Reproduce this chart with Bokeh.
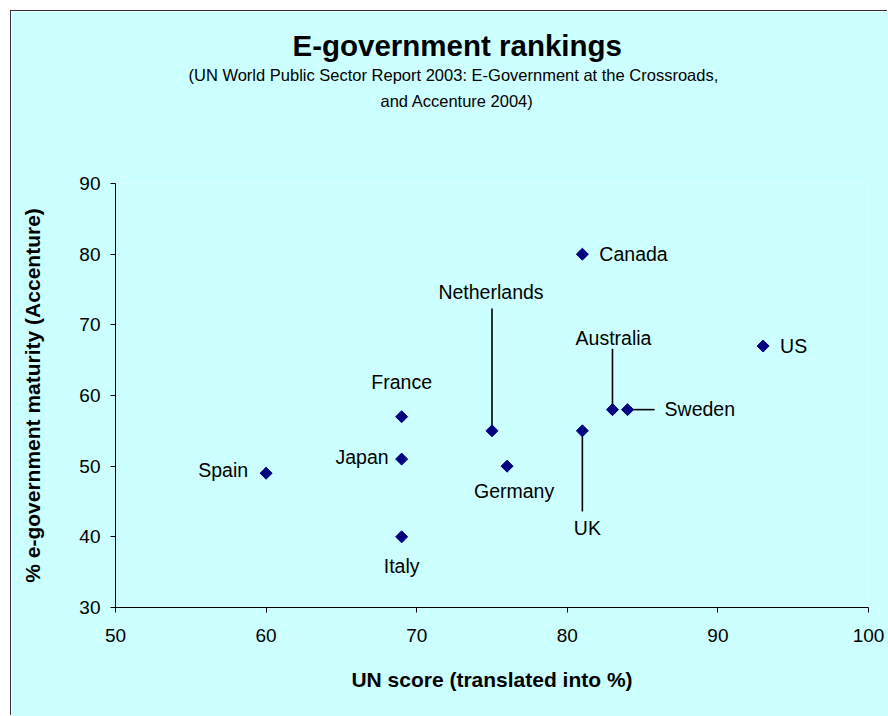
import numpy as np
from bokeh.plotting import figure
from bokeh.models import ColumnDataSource, Range1d, FixedTicker, Title
from bokeh.embed import file_html
from bokeh.resources import INLINE
from bokeh.core.properties import value

# UN e-government score vs Accenture maturity, by country
countries = ["Spain", "Japan", "France", "Italy", "Netherlands", "Germany",
             "UK", "Canada", "Australia", "Sweden", "US"]
un_score = [60, 69, 69, 69, 75, 76, 81, 81, 83, 84, 93]
accenture = [49, 51, 57, 40, 55, 50, 55, 80, 58, 58, 67]

x_ticks = [50, 60, 70, 80, 90, 100]
y_ticks = [30, 40, 50, 60, 70, 80, 90]

# where each country name sits relative to its marker (pixels) and how it is aligned
label_dx = [-18, -13, 0, 0, -1, 7, 5, 17, 1, 37, 17]
label_dy = [-3, -2, -35, 29, -139, 25, 97, 0, -72, -1, 0]
label_align = ["right", "right", "center", "center", "center", "center",
               "center", "left", "center", "left", "left"]

# leader lines from a marker to its label: far end in data units
leader_names = ["Netherlands", "Australia", "UK", "Sweden"]
leader_end_x = [75, 83, 81, 85.8]
leader_end_y = [72.3, 66.6, 43.6, 58]

FONT = "Liberation Sans"
BG = "#CCFFFF"
MARK = "#000080"

p = figure(width=877, height=705,
           x_range=Range1d(50, 100), y_range=Range1d(30, 90),
           output_backend="svg", toolbar_location=None,
           min_border_left=104, min_border_right=20,
           min_border_top=172, min_border_bottom=109,
           background_fill_color=BG, border_fill_color=BG,
           outline_line_color=None)
p.xgrid.visible = False
p.ygrid.visible = False

for ax, ticks in ((p.xaxis, x_ticks), (p.yaxis, y_ticks)):
    ax.ticker = FixedTicker(ticks=ticks)
    ax.axis_line_color = "black"
    ax.axis_line_width = 1
    ax.major_tick_line_color = "black"
    ax.major_tick_in = 0
    ax.major_tick_out = 5
    ax.minor_tick_line_color = None
    ax.major_label_text_font = FONT
    ax.major_label_text_font_size = "19px"
    ax.major_label_text_color = "black"
    ax.axis_label_text_font = FONT
    ax.axis_label_text_font_size = "21px"
    ax.axis_label_text_font_style = "bold"
    ax.axis_label_text_color = "black"
p.xaxis.major_label_standoff = 16
p.yaxis.major_label_standoff = 10
p.xaxis.axis_label = "UN score (translated into %)"
p.yaxis.axis_label = "% e-government maturity (Accenture)"
p.xaxis.axis_label_standoff = 23
p.yaxis.axis_label_standoff = 32

# leader lines
idx = {c: i for i, c in enumerate(countries)}
p.segment(x0=[un_score[idx[c]] for c in leader_names],
          y0=[accenture[idx[c]] for c in leader_names],
          x1=leader_end_x, y1=leader_end_y,
          line_color="black", line_width=1.6)

# markers: diamonds
p.scatter(un_score, accenture, marker="square", angle=np.pi / 4, size=8.5,
          fill_color=MARK, line_color=MARK)

# country names
for align in ("left", "center", "right"):
    sel = [i for i, a in enumerate(label_align) if a == align]
    src = ColumnDataSource(dict(
        x=[un_score[i] for i in sel], y=[accenture[i] for i in sel],
        name=[countries[i] for i in sel],
        dx=[label_dx[i] for i in sel], dy=[label_dy[i] for i in sel]))
    p.text(x="x", y="y", text="name", x_offset="dx", y_offset="dy", source=src,
           text_align=align, text_baseline="middle",
           text_font=value(FONT), text_font_size="19.5px", text_color="black")

# heading block, stacked upward from the plot frame:
# gap, second subtitle line, first subtitle line, main title
p.add_layout(Title(text=" ", text_font_size="10px", standoff=57), "above")
p.add_layout(Title(text="and Accenture 2004)", align="left", offset=265,
                   text_font=FONT, text_font_size="16.5px",
                   text_font_style="normal", text_color="black",
                   standoff=7), "above")
p.add_layout(Title(text="(UN World Public Sector Report 2003: E-Government at the Crossroads,",
                   align="left", offset=73, text_font=FONT,
                   text_font_size="16.5px", text_font_style="normal",
                   text_color="black", standoff=5), "above")
p.title.text = "E-government rankings"
p.title.align = "left"
p.title.offset = 177
p.title.text_font = FONT
p.title.text_font_size = "29.5px"
p.title.text_font_style = "bold"
p.title.text_color = "black"
p.title.standoff = 0

p.styles = {"margin-left": "11px", "margin-top": "11px",
            "box-shadow": "-1px -1px 0 0 #333333"}

open("out.html", "w").write(file_html(p, INLINE))
